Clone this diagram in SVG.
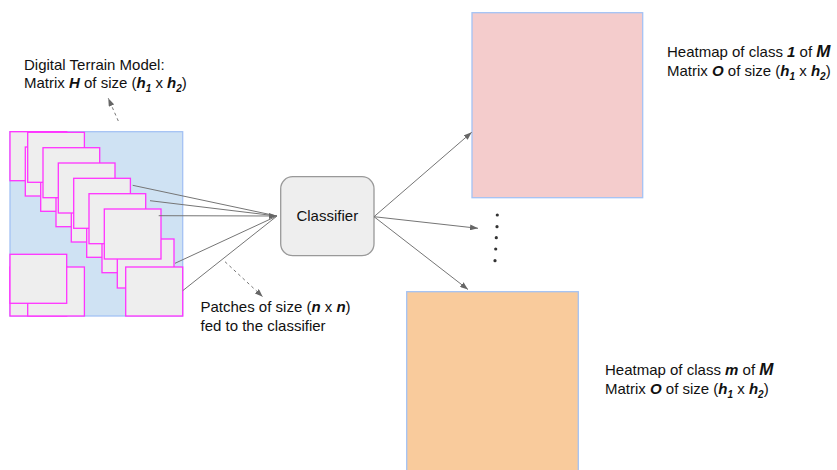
<svg xmlns="http://www.w3.org/2000/svg" width="837" height="470" viewBox="0 0 837 470">
<defs>
<style>
text{font-family:"Liberation Sans",Arial,sans-serif;font-size:15px;fill:#111}
.b{font-weight:bold;font-style:italic}
.sub{font-size:10px;font-weight:bold;font-style:italic}
.patch{fill:#eeeeee;stroke:#ff33ff;stroke-width:1.3}
.conn{stroke:#757575;stroke-width:1;fill:none}
.dash{stroke:#777;stroke-width:1;fill:none;stroke-dasharray:3,3}
.heat{stroke:#a4c2f4;stroke-width:1.3}
</style>
<marker id="ah" markerUnits="userSpaceOnUse" markerWidth="8" markerHeight="6" refX="8" refY="3" orient="auto">
<path d="M0,0 L8,3 L0,6 z" fill="#666"/>
</marker>
</defs>
<rect width="837" height="470" fill="#ffffff"/>

<g id="dtm">
<rect x="10" y="131.7" width="172.7" height="184.3" fill="#cfe2f3" stroke="#a4c2f4" stroke-width="1.3"/>
<g id="patches">
<rect class="patch" x="10" y="131.7" width="56.7" height="49"/>
<rect class="patch" x="25.3" y="147" width="56.7" height="49"/>
<rect class="patch" x="40.7" y="162.3" width="56.7" height="49"/>
<rect class="patch" x="56" y="177.7" width="56.7" height="49"/>
<rect class="patch" x="71.3" y="193" width="56.7" height="49"/>
<rect class="patch" x="86.7" y="208.3" width="56.7" height="49"/>
<rect class="patch" x="102" y="223.7" width="56.7" height="49"/>
<rect class="patch" x="117.3" y="239" width="56.7" height="49"/>
<rect class="patch" x="27.7" y="132.3" width="56.7" height="50"/>
<rect class="patch" x="43" y="147.7" width="56.7" height="50"/>
<rect class="patch" x="58.3" y="163" width="56.7" height="50"/>
<rect class="patch" x="73.7" y="178.3" width="56.7" height="50"/>
<rect class="patch" x="89" y="193.7" width="56.7" height="50"/>
<rect class="patch" x="104.3" y="209" width="56.7" height="50"/>
<rect class="patch" x="125.7" y="267" width="57" height="49"/>
<rect class="patch" x="10" y="267" width="56.7" height="49"/>
<rect class="patch" x="27.7" y="267" width="56.7" height="49"/>
<rect class="patch" x="10" y="254.3" width="56.7" height="49"/>
</g>
</g>

<g id="dtm-label">
<text x="24" y="69.5">Digital Terrain Model:</text>
<text x="24" y="87.5">Matrix <tspan class="b">H</tspan> of size (<tspan class="b">h</tspan><tspan class="sub" dy="4">1</tspan><tspan dy="-4"> x </tspan><tspan class="b">h</tspan><tspan class="sub" dy="4">2</tspan><tspan dy="-4">)</tspan></text>
</g>

<g id="classifier">
<rect x="280.7" y="176.7" width="93.3" height="79" rx="12" ry="12" fill="#eeeeee" stroke="#999999" stroke-width="1.3"/>
<text x="327.3" y="220.5" text-anchor="middle">Classifier</text>
</g>

<g id="heatmap-1">
<rect class="heat" x="472" y="12.7" width="170.7" height="185" fill="#f4cccc"/>
</g>
<g id="heatmap-1-label">
<text x="667" y="57">Heatmap of class <tspan class="b">1</tspan> of <tspan class="b" font-size="17">M</tspan></text>
<text x="667" y="75.5">Matrix <tspan class="b">O</tspan> of size (<tspan class="b">h</tspan><tspan class="sub" dy="4">1</tspan><tspan dy="-4"> x </tspan><tspan class="b">h</tspan><tspan class="sub" dy="4">2</tspan><tspan dy="-4">)</tspan></text>
</g>

<g id="heatmap-m">
<rect class="heat" x="406.7" y="291.7" width="171.6" height="190" fill="#f9cb9c"/>
</g>
<g id="heatmap-m-label">
<text x="605" y="375">Heatmap of class <tspan class="b">m</tspan> of <tspan class="b" font-size="17">M</tspan></text>
<text x="605" y="393.5">Matrix <tspan class="b">O</tspan> of size (<tspan class="b">h</tspan><tspan class="sub" dy="4">1</tspan><tspan dy="-4"> x </tspan><tspan class="b">h</tspan><tspan class="sub" dy="4">2</tspan><tspan dy="-4">)</tspan></text>
</g>

<g id="patches-label">
<text x="200.5" y="312">Patches of size (<tspan class="b">n</tspan> x <tspan class="b">n</tspan>)</text>
<text x="200.5" y="331">fed to the classifier</text>
</g>

<g id="ellipsis" fill="#333">
<circle cx="497.3" cy="215" r="1.6"/>
<circle cx="497" cy="226.7" r="1.6"/>
<circle cx="496.3" cy="237.7" r="1.6"/>
<circle cx="495.7" cy="249" r="1.6"/>
<circle cx="495" cy="260.7" r="1.6"/>
</g>

<g id="connectors">
<line class="conn" x1="132.7" y1="185.3" x2="277" y2="216"/>
<line class="conn" x1="150" y1="200.7" x2="277" y2="216"/>
<line class="conn" x1="158.7" y1="215.7" x2="277" y2="216" marker-end="url(#ah)"/>
<line class="conn" x1="175" y1="263.3" x2="277" y2="216"/>
<line class="conn" x1="182.7" y1="290.7" x2="277" y2="216"/>
<line class="conn" x1="374" y1="216.7" x2="471.7" y2="132.3" marker-end="url(#ah)"/>
<line class="conn" x1="374" y1="216.7" x2="478" y2="228.3" marker-end="url(#ah)"/>
<line class="conn" x1="374" y1="216.7" x2="468" y2="289.5" marker-end="url(#ah)"/>
<line class="dash" x1="118.3" y1="121" x2="108.3" y2="98.3" marker-end="url(#ah)"/>
<line class="dash" x1="225" y1="261.7" x2="262.7" y2="296.7" marker-end="url(#ah)"/>
</g>
</svg>
